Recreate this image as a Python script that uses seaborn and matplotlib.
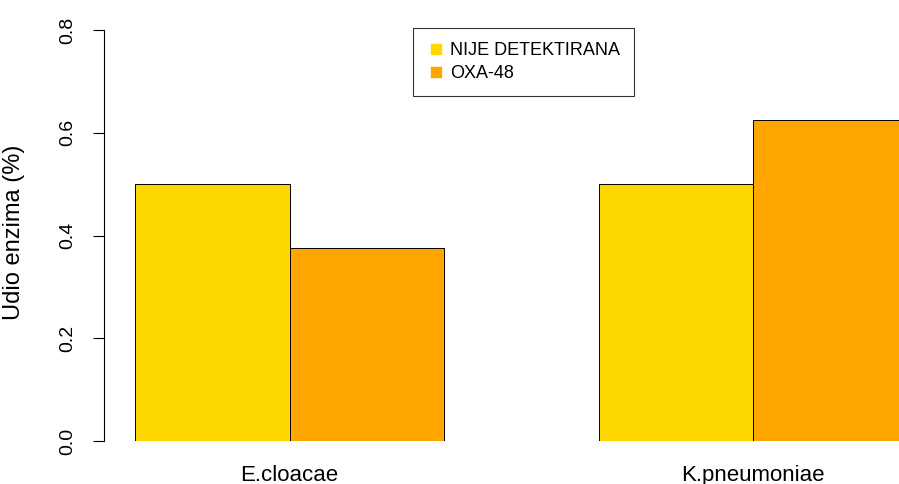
import pandas as pd
import matplotlib.pyplot as plt
import seaborn as sns
from matplotlib.lines import Line2D

species = ["E.cloacae", "K.pneumoniae"]
enzymes = ["NIJE DETEKTIRANA", "OXA-48"]
share_nije = [0.5, 0.5]
share_oxa = [0.375, 0.625]
colors = ["#FFD700", "#FFA500"]

df = pd.DataFrame({
    "species": species * 2,
    "enzyme": [enzymes[0]] * 2 + [enzymes[1]] * 2,
    "share": share_nije + share_oxa,
})

sns.set_style("white")
plt.rcParams["font.family"] = ["Liberation Sans", "DejaVu Sans"]
plt.rcParams["text.color"] = "black"
plt.rcParams["axes.labelcolor"] = "black"
plt.rcParams["xtick.color"] = "black"
plt.rcParams["ytick.color"] = "black"

fig = plt.figure(figsize=(8.99, 4.84), dpi=100)
ax = fig.add_axes([0, 43 / 484, 1, 411 / 484])

sns.barplot(data=df, x="species", y="share", hue="enzyme", order=species,
            hue_order=enzymes, palette=colors, width=2 / 3, saturation=1,
            edgecolor="black", linewidth=0.7, errorbar=None, ax=ax, legend=False)

ax.set_xlim(-0.6247, 1.315)
ax.set_ylim(0, 0.8)
ax.set_facecolor("white")
for s in ["top", "right", "bottom"]:
    ax.spines[s].set_visible(False)
ax.spines["left"].set_position(("data", -0.4))
ax.spines["left"].set_bounds(0, 0.8)
ax.spines["left"].set_color("black")
ax.spines["left"].set_linewidth(0.8)

ax.set_yticks([0, 0.2, 0.4, 0.6, 0.8])
ax.set_yticklabels(["0.0", "0.2", "0.4", "0.6", "0.8"], rotation=90, va="center")
ax.tick_params(axis="y", left=True, length=8, width=0.8,
               labelsize=14, pad=12)
ax.tick_params(axis="x", bottom=False, length=0, labelsize=16, pad=17)
ax.set_xlabel("")
ax.set_ylabel("Udio enzima (%)", fontsize=17)
ax.yaxis.set_label_coords(25 / 899, 0.52, transform=fig.transFigure)

handles = [Line2D([], [], marker="s", linestyle="", markersize=7,
                  markerfacecolor=c, markeredgecolor=c) for c in colors]
leg = fig.legend(handles, enzymes, loc="upper left",
                 bbox_to_anchor=(413 / 899, 1 - 28 / 484), fontsize=13,
                 frameon=True, fancybox=False, borderpad=0.8, labelspacing=0.3,
                 handletextpad=0.35, handlelength=0.9, borderaxespad=0)
leg.get_frame().set_edgecolor("black")
leg.get_frame().set_linewidth(0.8)

plt.savefig("out.png", dpi=100)
